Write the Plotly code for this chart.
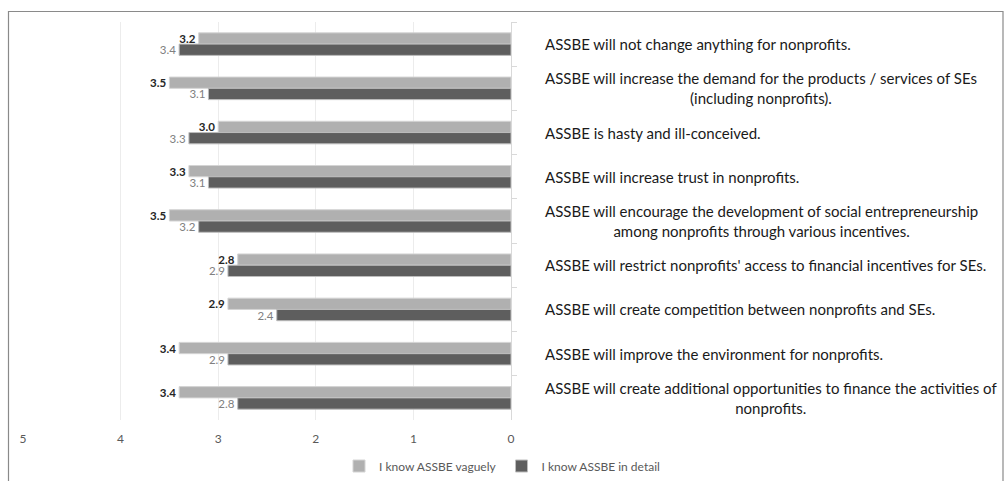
import plotly.graph_objects as go

# Statements, listed top to bottom
statements = [
    "ASSBE will not change anything for nonprofits.",
    "ASSBE will increase the demand for the products / services of SEs<br>(including nonprofits).",
    "ASSBE is hasty and ill-conceived.",
    "ASSBE will increase trust in nonprofits.",
    "ASSBE will encourage the development of social entrepreneurship<br>among nonprofits through various incentives.",
    "ASSBE will restrict nonprofits' access to financial incentives for SEs.",
    "ASSBE will create competition between nonprofits and SEs.",
    "ASSBE will improve the environment for nonprofits.",
    "ASSBE will create additional opportunities to finance the activities of<br>nonprofits.",
]

# Mean agreement scores per group
know_vaguely = [3.2, 3.5, 3.0, 3.3, 3.5, 2.8, 2.9, 3.4, 3.4]
know_in_detail = [3.4, 3.1, 3.3, 3.1, 3.2, 2.9, 2.4, 2.9, 2.8]

series_names = ["I know ASSBE vaguely", "I know ASSBE in detail"]
x_ticks = [0, 1, 2, 3, 4, 5]

FONT = "Lato"
W, H = 1004, 481
PLOT_L, PLOT_R, PLOT_T, PLOT_B = 23, 511, 22, 420
PW, PH = PLOT_R - PLOT_L, PLOT_B - PLOT_T


def px_x(px):
    return (px - PLOT_L) / PW


def px_y(py):
    return (PLOT_B - py) / PH


cat_ids = [f"c{i}" for i in range(len(statements))]

fig = go.Figure()
fig.add_trace(go.Bar(
    name=series_names[0], y=cat_ids, x=know_vaguely, orientation="h",
    marker=dict(color="#b0b0b0", line=dict(color="#d4d4d4", width=1)),
    text=know_vaguely, texttemplate="<b>%{x:.1f}</b>", textposition="outside",
    textfont=dict(family=FONT, size=11.5, color="#262626"),
    constraintext="none", cliponaxis=False,
))
fig.add_trace(go.Bar(
    name=series_names[1], y=cat_ids, x=know_in_detail, orientation="h",
    marker=dict(color="#5e5e5e", line=dict(color="#bdbdbd", width=1)),
    text=know_in_detail, texttemplate="%{x:.1f}", textposition="outside",
    textfont=dict(family=FONT, size=11.5, color="#808080"),
    constraintext="none", cliponaxis=False,
))

# Statement labels to the right of the zero line
for cid, label in zip(cat_ids, statements):
    fig.add_annotation(
        x=px_x(543), xref="paper", y=cid, yref="y",
        text=label, showarrow=False, xanchor="left", yanchor="middle",
        align="center", font=dict(family=FONT, size=15, color="#1a1a1a"),
    )

# Chart frame
fig.add_shape(
    type="rect", xref="paper", yref="paper",
    x0=px_x(8.5), x1=px_x(1003), y0=px_y(500), y1=px_y(11.5),
    line=dict(color="#8a8a8a", width=1.2), fillcolor="rgba(0,0,0,0)", layer="below",
)

fig.update_layout(
    width=W, height=H,
    margin=dict(l=PLOT_L, r=W - PLOT_R, t=PLOT_T, b=H - PLOT_B, autoexpand=False),
    paper_bgcolor="white", plot_bgcolor="white",
    barmode="group", bargap=0.49, bargroupgap=0,
    font=dict(family=FONT, size=12, color="#595959"),
    showlegend=True,
    legend=dict(
        orientation="h", x=px_x(502), y=px_y(466), xanchor="center", yanchor="middle",
        font=dict(family=FONT, size=12, color="#595959"),
        itemwidth=30, tracegroupgap=0,
    ),
    xaxis=dict(
        range=[5, 0], tickvals=x_ticks, ticktext=[str(v) for v in x_ticks],
        showgrid=True, gridcolor="#ececec", gridwidth=1, zeroline=False,
        showline=False, ticks="", ticklabelstandoff=10,
        tickfont=dict(family=FONT, size=12, color="#595959"),
    ),
    yaxis=dict(
        categoryorder="array", categoryarray=cat_ids, autorange="reversed",
        side="right", showticklabels=False, showgrid=False, zeroline=False,
        showline=True, linecolor="#d9d9d9", linewidth=1,
        ticks="outside", tickson="boundaries", ticklen=5, tickcolor="#d9d9d9",
    ),
)

fig.write_html("out.html")
